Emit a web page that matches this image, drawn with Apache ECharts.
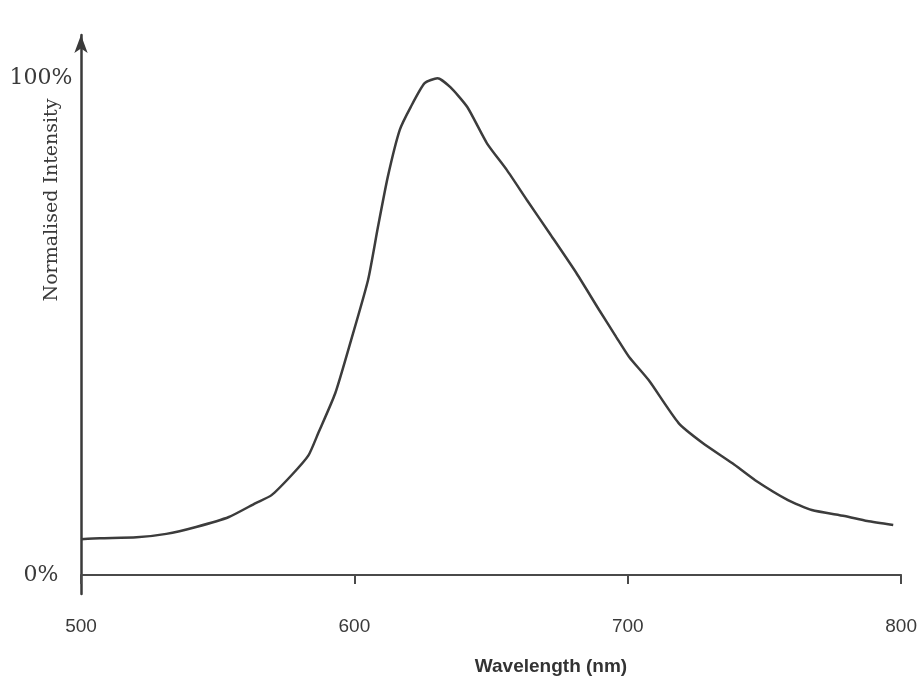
<!DOCTYPE html>
<html>
<head>
<meta charset="utf-8">
<script src="https://cdn.jsdelivr.net/npm/echarts@6/dist/echarts.min.js"></script>
<style>
  html, body { margin: 0; padding: 0; background: #fff; }
  #chart { width: 920px; height: 681px; }
</style>
</head>
<body>
<div id="chart"></div>
<script>
// emission spectrum: wavelength (nm), normalised intensity (%)
const wavelengths = [500, 506.9, 520.3, 531.2, 542.1, 554.1, 563.9, 569.7, 577.0, 583.2,
  586.8, 593.0, 598.8, 605.0, 608.6, 612.2, 616.6, 620.6, 625.7, 630.4,
  635.1, 641.3, 648.5, 655.8, 663.1, 671.4, 681.2, 689.6, 695.8, 700.5,
  707.7, 718.6, 727.4, 738.3, 746.6, 758.6, 767.3, 779.3, 787.6, 797.1];
const intensity = [7.2, 7.4, 7.6, 8.3, 9.7, 11.7, 14.5, 16.1, 20.1, 24.1,
  28.6, 36.6, 47.3, 59.4, 70.0, 80.1, 89.6, 94.2, 99.0, 100,
  98.2, 94.2, 86.9, 81.5, 75.5, 68.8, 60.8, 53.3, 47.9, 43.9,
  39.2, 30.6, 26.6, 22.5, 19.1, 15.1, 13.1, 11.9, 10.9, 10.1];
const xTicks = [500, 600, 700, 800];
const yTicks = [0, 100];

const chart = echarts.init(document.getElementById('chart'));

chart.setOption({
  animation: false,
  backgroundColor: '#fff',
  grid: { left: 81, right: 12, top: 35, bottom: 87 },
  xAxis: {
    type: 'value',
    min: 500,
    max: 800,
    interval: 100,
    axisLine: { onZero: true, lineStyle: { color: '#4a4a4a', width: 2 } },
    axisTick: { show: true, length: 9, lineStyle: { color: '#4a4a4a', width: 2 }, customValues: xTicks },
    axisLabel: {
      customValues: xTicks,
      margin: 23,
      color: '#3a3a3a',
      fontFamily: 'Liberation Sans',
      fontSize: 19
    },
    splitLine: { show: false }
  },
  yAxis: {
    type: 'value',
    min: -3.8,
    max: 108.7,
    axisLine: {
      show: true,
      symbol: ['none', 'arrow'],
      symbolSize: [10, 18],
      lineStyle: { color: '#3a3a3a', width: 2.5 }
    },
    axisTick: { show: false },
    axisLabel: {
      customValues: yTicks,
      formatter: '{value}%',
      margin: 40,
      align: 'center',
      color: '#3a3a3a',
      fontFamily: 'DejaVu Serif',
      fontSize: 22
    },
    splitLine: { show: false }
  },
  graphic: [
    {
      type: 'text',
      x: 551,
      y: 667,
      style: {
        text: 'Wavelength (nm)',
        fill: '#333',
        font: 'bold 19px "Liberation Sans"',
        textAlign: 'center',
        textVerticalAlign: 'middle'
      }
    },
    {
      type: 'text',
      x: 52,
      y: 200,
      rotation: Math.PI / 2,
      style: {
        text: 'Normalised Intensity',
        fill: '#3a3a3a',
        font: '19px "DejaVu Serif"',
        textAlign: 'center',
        textVerticalAlign: 'middle'
      }
    }
  ],
  series: [
    {
      type: 'line',
      data: wavelengths.map((w, i) => [w, intensity[i]]),
      smooth: 0.2,
      showSymbol: false,
      lineStyle: { color: '#3c3c3c', width: 2.5 }
    }
  ]
});
</script>
</body>
</html>
